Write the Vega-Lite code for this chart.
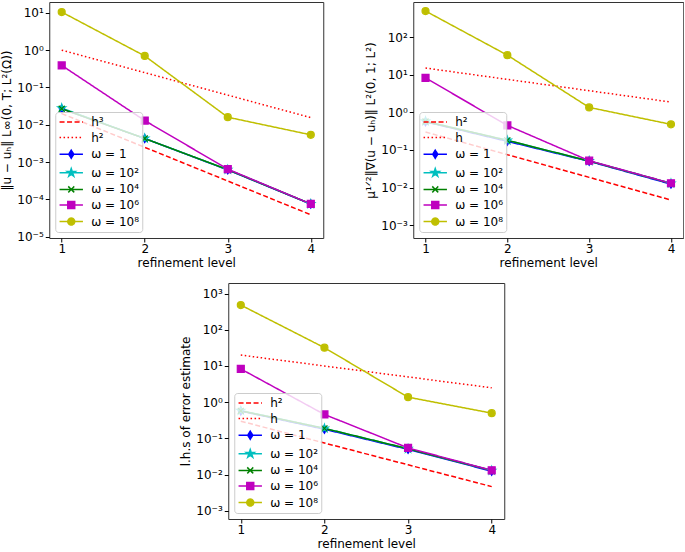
{
  "$schema": "https://vega.github.io/schema/vega-lite/v6.json",
  "padding": {"left": 0, "top": 1, "right": 0, "bottom": 0},
  "datasets": {
    "p1": [
      {"series": "h³", "level": 1, "value": 0.02},
      {"series": "h³", "level": 2, "value": 0.0025},
      {"series": "h³", "level": 3, "value": 0.0003125},
      {"series": "h³", "level": 4, "value": 0.000039},
      {"series": "h²", "level": 1, "value": 1.0},
      {"series": "h²", "level": 2, "value": 0.25},
      {"series": "h²", "level": 3, "value": 0.0625},
      {"series": "h²", "level": 4, "value": 0.0156},
      {"series": "ω = 1", "level": 1, "value": 0.027},
      {"series": "ω = 1", "level": 2, "value": 0.0043},
      {"series": "ω = 1", "level": 3, "value": 0.00062},
      {"series": "ω = 1", "level": 4, "value": 0.000075},
      {"series": "ω = 10²", "level": 1, "value": 0.028},
      {"series": "ω = 10²", "level": 2, "value": 0.0043},
      {"series": "ω = 10²", "level": 3, "value": 0.00063},
      {"series": "ω = 10²", "level": 4, "value": 0.000076},
      {"series": "ω = 10⁴", "level": 1, "value": 0.027},
      {"series": "ω = 10⁴", "level": 2, "value": 0.0043},
      {"series": "ω = 10⁴", "level": 3, "value": 0.00063},
      {"series": "ω = 10⁴", "level": 4, "value": 0.000076},
      {"series": "ω = 10⁶", "level": 1, "value": 0.39},
      {"series": "ω = 10⁶", "level": 2, "value": 0.013},
      {"series": "ω = 10⁶", "level": 3, "value": 0.00065},
      {"series": "ω = 10⁶", "level": 4, "value": 0.000076},
      {"series": "ω = 10⁸", "level": 1, "value": 10.5},
      {"series": "ω = 10⁸", "level": 2, "value": 0.7},
      {"series": "ω = 10⁸", "level": 3, "value": 0.016},
      {"series": "ω = 10⁸", "level": 4, "value": 0.0054}
    ],
    "p2": [
      {"series": "h²", "level": 1, "value": 0.3},
      {"series": "h²", "level": 2, "value": 0.075},
      {"series": "h²", "level": 3, "value": 0.01875},
      {"series": "h²", "level": 4, "value": 0.0047},
      {"series": "h", "level": 1, "value": 15},
      {"series": "h", "level": 2, "value": 7.5},
      {"series": "h", "level": 3, "value": 3.75},
      {"series": "h", "level": 4, "value": 1.875},
      {"series": "ω = 1", "level": 1, "value": 0.56},
      {"series": "ω = 1", "level": 2, "value": 0.17},
      {"series": "ω = 1", "level": 3, "value": 0.05},
      {"series": "ω = 1", "level": 4, "value": 0.0124},
      {"series": "ω = 10²", "level": 1, "value": 0.58},
      {"series": "ω = 10²", "level": 2, "value": 0.18},
      {"series": "ω = 10²", "level": 3, "value": 0.051},
      {"series": "ω = 10²", "level": 4, "value": 0.013},
      {"series": "ω = 10⁴", "level": 1, "value": 0.57},
      {"series": "ω = 10⁴", "level": 2, "value": 0.18},
      {"series": "ω = 10⁴", "level": 3, "value": 0.051},
      {"series": "ω = 10⁴", "level": 4, "value": 0.013},
      {"series": "ω = 10⁶", "level": 1, "value": 8.2},
      {"series": "ω = 10⁶", "level": 2, "value": 0.45},
      {"series": "ω = 10⁶", "level": 3, "value": 0.052},
      {"series": "ω = 10⁶", "level": 4, "value": 0.0131},
      {"series": "ω = 10⁸", "level": 1, "value": 490},
      {"series": "ω = 10⁸", "level": 2, "value": 33},
      {"series": "ω = 10⁸", "level": 3, "value": 1.35},
      {"series": "ω = 10⁸", "level": 4, "value": 0.48}
    ],
    "p3": [
      {"series": "h²", "level": 1, "value": 0.3},
      {"series": "h²", "level": 2, "value": 0.075},
      {"series": "h²", "level": 3, "value": 0.01875},
      {"series": "h²", "level": 4, "value": 0.0047},
      {"series": "h", "level": 1, "value": 20},
      {"series": "h", "level": 2, "value": 10},
      {"series": "h", "level": 3, "value": 5},
      {"series": "h", "level": 4, "value": 2.5},
      {"series": "ω = 1", "level": 1, "value": 0.57},
      {"series": "ω = 1", "level": 2, "value": 0.18},
      {"series": "ω = 1", "level": 3, "value": 0.05},
      {"series": "ω = 1", "level": 4, "value": 0.0125},
      {"series": "ω = 10²", "level": 1, "value": 0.59},
      {"series": "ω = 10²", "level": 2, "value": 0.19},
      {"series": "ω = 10²", "level": 3, "value": 0.052},
      {"series": "ω = 10²", "level": 4, "value": 0.013},
      {"series": "ω = 10⁴", "level": 1, "value": 0.58},
      {"series": "ω = 10⁴", "level": 2, "value": 0.19},
      {"series": "ω = 10⁴", "level": 3, "value": 0.052},
      {"series": "ω = 10⁴", "level": 4, "value": 0.013},
      {"series": "ω = 10⁶", "level": 1, "value": 8.3},
      {"series": "ω = 10⁶", "level": 2, "value": 0.46},
      {"series": "ω = 10⁶", "level": 3, "value": 0.055},
      {"series": "ω = 10⁶", "level": 4, "value": 0.0132},
      {"series": "ω = 10⁸", "level": 1, "value": 480},
      {"series": "ω = 10⁸", "level": 2, "value": 32},
      {"series": "ω = 10⁸", "level": 3, "value": 1.38},
      {"series": "ω = 10⁸", "level": 4, "value": 0.5}
    ]
  },
  "vconcat": [
    {
      "hconcat": [
        {
          "width": 274, "height": 236,
          "data": {"name": "p1"},
          "layer": [
            {
              "mark": {"type": "line", "strokeWidth": 1.5, "clip": true},
              "encoding": {
                "x": {"field": "level", "type": "quantitative", "scale": {"domain": [0.85, 4.15], "nice": false, "zero": false}, "axis": {"values": [1, 2, 3, 4], "format": "d", "title": "refinement level"}},
                "y": {"field": "value", "type": "quantitative", "scale": {"type": "log", "domain": [0.0000093, 19.5], "nice": false}, "axis": {"values": [0.00001, 0.0001, 0.001, 0.01, 0.1, 1, 10], "labelExpr": "'10' + ['⁻⁵','⁻⁴','⁻³','⁻²','⁻¹','⁰','¹','²','³'][round(log(datum.value)/LN10)+5]", "title": "‖u − uₕ‖ L∞(0, T; L²(Ω))"}},
                "color": {"field": "series", "type": "nominal", "scale": {"domain": ["h³", "h²", "ω = 1", "ω = 10²", "ω = 10⁴", "ω = 10⁶", "ω = 10⁸"], "range": ["#ff0000", "#ff0000", "#0000ff", "#00bfbf", "#008000", "#bf00bf", "#bfbf00"]},
                  "legend": {"title": null, "orient": "bottom-left", "offset": 6, "symbolSize": 144, "symbolStrokeWidth": 1.5, "labelFontSize": 12, "labelFont": "DejaVu Sans", "labelColor": "#000", "fillColor": "rgba(255,255,255,0.8)", "strokeColor": "#cccccc", "cornerRadius": 3, "padding": 3, "rowPadding": 2.6, "symbolOffset": 6, "labelOffset": 19,
                    "encode": {
                      "labels": {"update": {"x": {"value": 33}}},
                      "symbols": {"update": {
                      "x": {"value": 13},
                      "shape": {"signal": "['M-1.95,0H1.95','M-1.95,0H1.95','M-1.95,0H1.95M0,-0.67L0.42,0L0,0.67L-0.42,0Z','M-1.95,0H1.95M0,-0.7L0.157,-0.216L0.666,-0.216L0.254,0.083L0.412,0.566L0,0.267L-0.412,0.566L-0.254,0.083L-0.666,-0.216L-0.157,-0.216Z','M-1.95,0H1.95M-0.5,-0.5L0.5,0.5M-0.5,0.5L0.5,-0.5','M-1.95,0H1.95M-0.58,-0.58H0.58V0.58H-0.58Z','M-1.95,0H1.95M0.58,0A0.58,0.58,0,1,1,-0.58,0A0.58,0.58,0,1,1,0.58,0Z'][datum.index]"},
                      "fill": {"signal": "['#ff0000','#ff0000','#0000ff','#00bfbf','#008000','#bf00bf','#bfbf00'][datum.index]"},
                      "stroke": {"signal": "['#ff0000','#ff0000','#0000ff','#00bfbf','#008000','#bf00bf','#bfbf00'][datum.index]"},
                      "strokeDash": {"signal": "[[5,2.5],[1.5,2.5],[],[],[],[],[]][datum.index]"},
                      "opacity": {"value": 1},
                      "fillOpacity": {"value": 1}
                    }}}}},
                "strokeDash": {"field": "series", "type": "nominal", "scale": {"domain": ["h³", "h²", "ω = 1", "ω = 10²", "ω = 10⁴", "ω = 10⁶", "ω = 10⁸"], "range": [[5, 2.5], [1.5, 2.5], [1, 0], [1, 0], [1, 0], [1, 0], [1, 0]]}, "legend": null}
              }
            },
            {
              "transform": [{"filter": "indexof(datum.series, 'ω') >= 0"}],
              "mark": {"type": "point", "filled": true, "size": 49, "strokeWidth": 1.2, "opacity": 1, "clip": true},
              "encoding": {
                "x": {"field": "level", "type": "quantitative"},
                "y": {"field": "value", "type": "quantitative"},
                "color": {"field": "series", "type": "nominal"},
                "stroke": {"field": "series", "type": "nominal", "scale": {"domain": ["ω = 1", "ω = 10²", "ω = 10⁴", "ω = 10⁶", "ω = 10⁸"], "range": ["#0000ff", "#00bfbf", "#008000", "#bf00bf", "#bfbf00"]}, "legend": null},
                "shape": {"field": "series", "type": "nominal", "scale": {"domain": ["ω = 1", "ω = 10²", "ω = 10⁴", "ω = 10⁶", "ω = 10⁸"], "range": ["M0,-1.15L0.7,0L0,1.15L-0.7,0Z", "M0,-1.2L0.27,-0.37L1.14,-0.37L0.44,0.14L0.71,0.97L0,0.46L-0.71,0.97L-0.44,0.14L-1.14,-0.37L-0.27,-0.37Z", "M-0.85,-0.85L0.85,0.85M-0.85,0.85L0.85,-0.85", "M-1,-1H1V1H-1Z", "M1,0A1,1,0,1,1,-1,0A1,1,0,1,1,1,0Z"]}, "legend": null}
              }
            }
          ]
        },
        {
          "width": 270, "height": 236,
          "data": {"name": "p2"},
          "layer": [
            {
              "mark": {"type": "line", "strokeWidth": 1.5, "clip": true},
              "encoding": {
                "x": {"field": "level", "type": "quantitative", "scale": {"domain": [0.85, 4.15], "nice": false, "zero": false}, "axis": {"values": [1, 2, 3, 4], "format": "d", "title": "refinement level"}},
                "y": {"field": "value", "type": "quantitative", "scale": {"type": "log", "domain": [0.00046, 851], "nice": false}, "axis": {"values": [0.001, 0.01, 0.1, 1, 10, 100], "labelExpr": "'10' + ['⁻⁵','⁻⁴','⁻³','⁻²','⁻¹','⁰','¹','²','³'][round(log(datum.value)/LN10)+5]", "title": "μ¹ᐟ²‖∇(u − uₕ)‖ L²(0, 1; L²)"}},
                "color": {"field": "series", "type": "nominal", "scale": {"domain": ["h²", "h", "ω = 1", "ω = 10²", "ω = 10⁴", "ω = 10⁶", "ω = 10⁸"], "range": ["#ff0000", "#ff0000", "#0000ff", "#00bfbf", "#008000", "#bf00bf", "#bfbf00"]},
                  "legend": {"title": null, "orient": "bottom-left", "offset": 6, "symbolSize": 144, "symbolStrokeWidth": 1.5, "labelFontSize": 12, "labelFont": "DejaVu Sans", "labelColor": "#000", "fillColor": "rgba(255,255,255,0.8)", "strokeColor": "#cccccc", "cornerRadius": 3, "padding": 3, "rowPadding": 2.6, "symbolOffset": 6, "labelOffset": 19,
                    "encode": {
                      "labels": {"update": {"x": {"value": 33}}},
                      "symbols": {"update": {
                      "x": {"value": 13},
                      "shape": {"signal": "['M-1.95,0H1.95','M-1.95,0H1.95','M-1.95,0H1.95M0,-0.67L0.42,0L0,0.67L-0.42,0Z','M-1.95,0H1.95M0,-0.7L0.157,-0.216L0.666,-0.216L0.254,0.083L0.412,0.566L0,0.267L-0.412,0.566L-0.254,0.083L-0.666,-0.216L-0.157,-0.216Z','M-1.95,0H1.95M-0.5,-0.5L0.5,0.5M-0.5,0.5L0.5,-0.5','M-1.95,0H1.95M-0.58,-0.58H0.58V0.58H-0.58Z','M-1.95,0H1.95M0.58,0A0.58,0.58,0,1,1,-0.58,0A0.58,0.58,0,1,1,0.58,0Z'][datum.index]"},
                      "fill": {"signal": "['#ff0000','#ff0000','#0000ff','#00bfbf','#008000','#bf00bf','#bfbf00'][datum.index]"},
                      "stroke": {"signal": "['#ff0000','#ff0000','#0000ff','#00bfbf','#008000','#bf00bf','#bfbf00'][datum.index]"},
                      "strokeDash": {"signal": "[[5,2.5],[1.5,2.5],[],[],[],[],[]][datum.index]"},
                      "opacity": {"value": 1},
                      "fillOpacity": {"value": 1}
                    }}}}},
                "strokeDash": {"field": "series", "type": "nominal", "scale": {"domain": ["h²", "h", "ω = 1", "ω = 10²", "ω = 10⁴", "ω = 10⁶", "ω = 10⁸"], "range": [[5, 2.5], [1.5, 2.5], [1, 0], [1, 0], [1, 0], [1, 0], [1, 0]]}, "legend": null}
              }
            },
            {
              "transform": [{"filter": "indexof(datum.series, 'ω') >= 0"}],
              "mark": {"type": "point", "filled": true, "size": 49, "strokeWidth": 1.2, "opacity": 1, "clip": true},
              "encoding": {
                "x": {"field": "level", "type": "quantitative"},
                "y": {"field": "value", "type": "quantitative"},
                "color": {"field": "series", "type": "nominal"},
                "stroke": {"field": "series", "type": "nominal", "scale": {"domain": ["ω = 1", "ω = 10²", "ω = 10⁴", "ω = 10⁶", "ω = 10⁸"], "range": ["#0000ff", "#00bfbf", "#008000", "#bf00bf", "#bfbf00"]}, "legend": null},
                "shape": {"field": "series", "type": "nominal", "scale": {"domain": ["ω = 1", "ω = 10²", "ω = 10⁴", "ω = 10⁶", "ω = 10⁸"], "range": ["M0,-1.15L0.7,0L0,1.15L-0.7,0Z", "M0,-1.2L0.27,-0.37L1.14,-0.37L0.44,0.14L0.71,0.97L0,0.46L-0.71,0.97L-0.44,0.14L-1.14,-0.37L-0.27,-0.37Z", "M-0.85,-0.85L0.85,0.85M-0.85,0.85L0.85,-0.85", "M-1,-1H1V1H-1Z", "M1,0A1,1,0,1,1,-1,0A1,1,0,1,1,1,0Z"]}, "legend": null}
              }
            }
          ]
        }
      ],
      "spacing": 40,
      "resolve": {"scale": {"color": "independent", "stroke": "independent", "strokeDash": "independent", "shape": "independent"}}
    },
    {
      "width": 276, "height": 236,
      "data": {"name": "p3"},
      "layer": [
        {
          "mark": {"type": "line", "strokeWidth": 1.5, "clip": true},
          "encoding": {
            "x": {"field": "level", "type": "quantitative", "scale": {"domain": [0.85, 4.15], "nice": false, "zero": false}, "axis": {"values": [1, 2, 3, 4], "format": "d", "title": "refinement level"}},
            "y": {"field": "value", "type": "quantitative", "scale": {"type": "log", "domain": [0.0006, 1950], "nice": false}, "axis": {"values": [0.001, 0.01, 0.1, 1, 10, 100, 1000], "labelExpr": "'10' + ['⁻⁵','⁻⁴','⁻³','⁻²','⁻¹','⁰','¹','²','³'][round(log(datum.value)/LN10)+5]", "title": "l.h.s of error estimate"}},
            "color": {"field": "series", "type": "nominal", "scale": {"domain": ["h²", "h", "ω = 1", "ω = 10²", "ω = 10⁴", "ω = 10⁶", "ω = 10⁸"], "range": ["#ff0000", "#ff0000", "#0000ff", "#00bfbf", "#008000", "#bf00bf", "#bfbf00"]},
              "legend": {"title": null, "orient": "bottom-left", "offset": 6, "symbolSize": 144, "symbolStrokeWidth": 1.5, "labelFontSize": 12, "labelFont": "DejaVu Sans", "labelColor": "#000", "fillColor": "rgba(255,255,255,0.8)", "strokeColor": "#cccccc", "cornerRadius": 3, "padding": 3, "rowPadding": 2.6, "symbolOffset": 6, "labelOffset": 19,
                "encode": {
                  "labels": {"update": {"x": {"value": 33}}},
                  "symbols": {"update": {
                  "x": {"value": 13},
                  "shape": {"signal": "['M-1.95,0H1.95','M-1.95,0H1.95','M-1.95,0H1.95M0,-0.67L0.42,0L0,0.67L-0.42,0Z','M-1.95,0H1.95M0,-0.7L0.157,-0.216L0.666,-0.216L0.254,0.083L0.412,0.566L0,0.267L-0.412,0.566L-0.254,0.083L-0.666,-0.216L-0.157,-0.216Z','M-1.95,0H1.95M-0.5,-0.5L0.5,0.5M-0.5,0.5L0.5,-0.5','M-1.95,0H1.95M-0.58,-0.58H0.58V0.58H-0.58Z','M-1.95,0H1.95M0.58,0A0.58,0.58,0,1,1,-0.58,0A0.58,0.58,0,1,1,0.58,0Z'][datum.index]"},
                  "fill": {"signal": "['#ff0000','#ff0000','#0000ff','#00bfbf','#008000','#bf00bf','#bfbf00'][datum.index]"},
                  "stroke": {"signal": "['#ff0000','#ff0000','#0000ff','#00bfbf','#008000','#bf00bf','#bfbf00'][datum.index]"},
                  "strokeDash": {"signal": "[[5,2.5],[1.5,2.5],[],[],[],[],[]][datum.index]"},
                  "opacity": {"value": 1},
                  "fillOpacity": {"value": 1}
                }}}}},
            "strokeDash": {"field": "series", "type": "nominal", "scale": {"domain": ["h²", "h", "ω = 1", "ω = 10²", "ω = 10⁴", "ω = 10⁶", "ω = 10⁸"], "range": [[5, 2.5], [1.5, 2.5], [1, 0], [1, 0], [1, 0], [1, 0], [1, 0]]}, "legend": null}
          }
        },
        {
          "transform": [{"filter": "indexof(datum.series, 'ω') >= 0"}],
          "mark": {"type": "point", "filled": true, "size": 49, "strokeWidth": 1.2, "opacity": 1, "clip": true},
          "encoding": {
            "x": {"field": "level", "type": "quantitative"},
            "y": {"field": "value", "type": "quantitative"},
            "color": {"field": "series", "type": "nominal"},
            "stroke": {"field": "series", "type": "nominal", "scale": {"domain": ["ω = 1", "ω = 10²", "ω = 10⁴", "ω = 10⁶", "ω = 10⁸"], "range": ["#0000ff", "#00bfbf", "#008000", "#bf00bf", "#bfbf00"]}, "legend": null},
            "shape": {"field": "series", "type": "nominal", "scale": {"domain": ["ω = 1", "ω = 10²", "ω = 10⁴", "ω = 10⁶", "ω = 10⁸"], "range": ["M0,-1.15L0.7,0L0,1.15L-0.7,0Z", "M0,-1.2L0.27,-0.37L1.14,-0.37L0.44,0.14L0.71,0.97L0,0.46L-0.71,0.97L-0.44,0.14L-1.14,-0.37L-0.27,-0.37Z", "M-0.85,-0.85L0.85,0.85M-0.85,0.85L0.85,-0.85", "M-1,-1H1V1H-1Z", "M1,0A1,1,0,1,1,-1,0A1,1,0,1,1,1,0Z"]}, "legend": null}
          }
        }
      ]
    }
  ],
  "spacing": 13,
  "center": true,
  "resolve": {"scale": {"color": "independent", "stroke": "independent", "strokeDash": "independent", "shape": "independent"}},
  "config": {
    "font": "DejaVu Sans",
    "view": {"stroke": "#333333", "strokeWidth": 1},
    "axisY": {"titlePadding": 3},
    "axisX": {"titlePadding": 3, "labelPadding": 1},
    "axis": {"domain": false, "grid": false, "tickColor": "#000", "tickSize": 4, "labelColor": "#000", "titleColor": "#000", "labelFont": "DejaVu Sans", "titleFont": "DejaVu Sans", "labelFontSize": 12, "titleFontSize": 12, "titleFontWeight": "normal", "labelPadding": 2}
  }
}
